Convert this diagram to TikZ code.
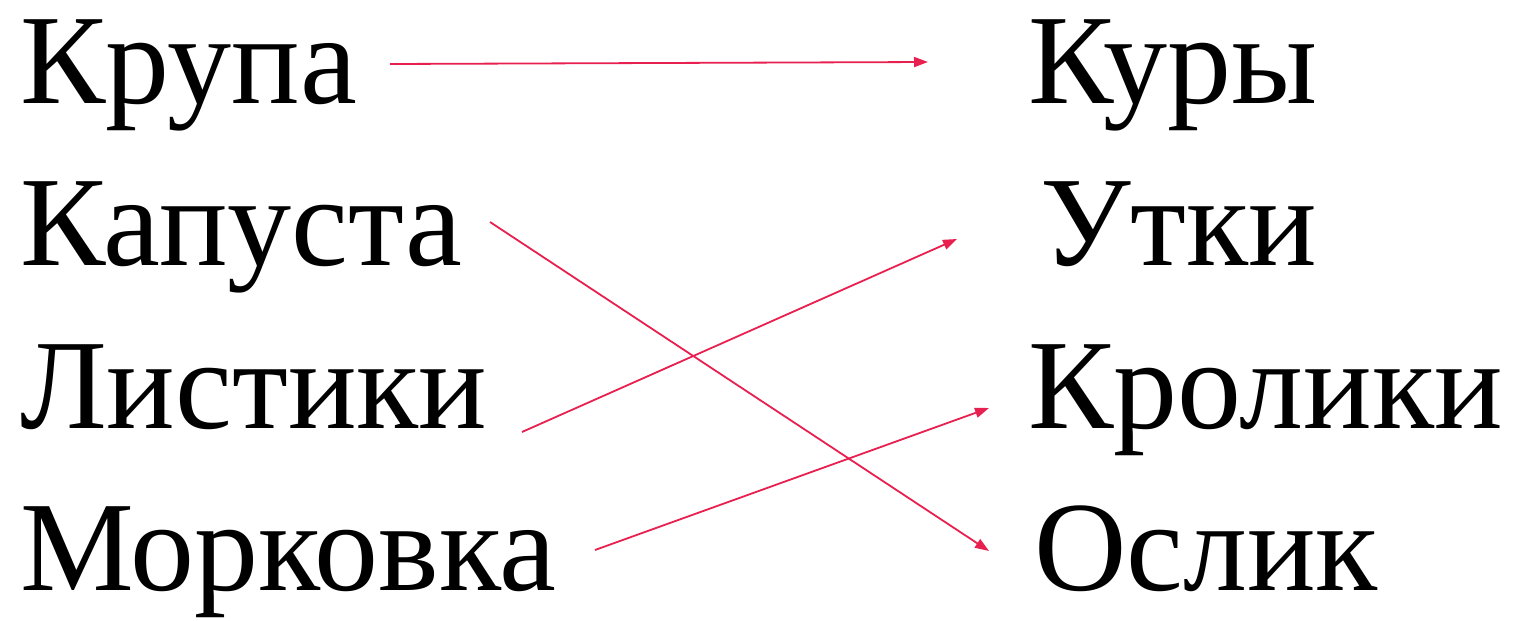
\documentclass[tikz,border=0pt]{standalone}
\usepackage{fontspec}
\setmainfont{Liberation Serif}
\usetikzlibrary{arrows.meta}
\definecolor{arr}{RGB}{232,32,80}
\begin{document}
\begin{tikzpicture}[x=1pt,y=-1pt,
  word/.style={anchor=base west,inner sep=0pt,font=\fontsize{128}{128}\selectfont},
  link/.style={draw=arr,line width=1.8pt,-{Triangle[length=14pt,width=10pt]}}]
\useasboundingbox (0,0) rectangle (1516,621);
\node[word] (krupa) at (20,103) {Крупа};
\node[word] (kapusta) at (20,265) {Капуста};
\node[word] (listiki) at (20,428) {Листики};
\node[word] (morkovka) at (20,590) {Морковка};
\node[word] (kury) at (1028,103) {Куры};
\node[word] (utki) at (1040,265) {Утки};
\node[word] (kroliki) at (1028,428) {Кролики};
\node[word] (oslik) at (1034,590) {Ослик};
\coordinate (s1) at (390,64);
\coordinate (e1) at (928,62);
\coordinate (s2) at (490,222);
\coordinate (e2) at (989,551);
\coordinate (s3) at (522,432);
\coordinate (e3) at (957,239);
\coordinate (s4) at (595,550);
\coordinate (e4) at (989,408);
\draw[link] (s1) -- (e1);
\draw[link] (s2) -- (e2);
\draw[link] (s3) -- (e3);
\draw[link] (s4) -- (e4);
\end{tikzpicture}
\end{document}
